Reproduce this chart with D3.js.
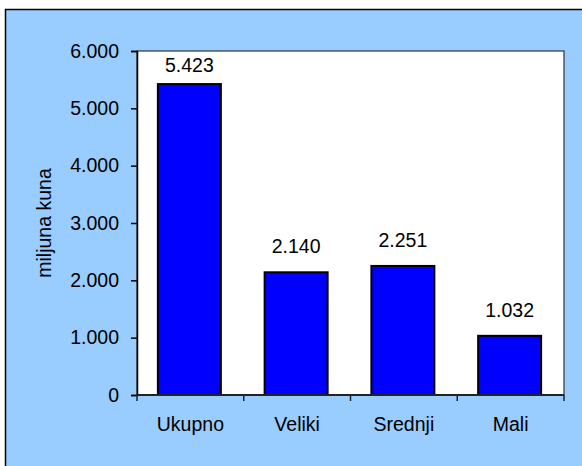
<!DOCTYPE html>
<html>
<head>
<meta charset="utf-8">
<script src="https://cdn.jsdelivr.net/npm/d3@7"></script>
<style>
  html, body { margin: 0; padding: 0; background: #ffffff; }
  svg { display: block; }
  text { font-family: "Liberation Sans", Arial, sans-serif; fill: #000; }
</style>
</head>
<body>
<svg id="chart" width="582" height="466"></svg>
<script>
const categories = ["Ukupno", "Veliki", "Srednji", "Mali"];
const values = [5423, 2140, 2251, 1032];
const yTicks = [0, 1000, 2000, 3000, 4000, 5000, 6000];
const yTitle = "miljuna kuna";

const W = 582, H = 466;
const plot = { left: 137, top: 51, right: 564, bottom: 395 };
const fontSize = 19.5;

const locale = d3.formatLocale({ decimal: ",", thousands: ".", grouping: [3], currency: ["", " kn"] });
const fmt = locale.format(",");

const svg = d3.select("#chart");

// chart area background
svg.append("rect")
  .attr("x", 5.5).attr("y", 9.5)
  .attr("width", W + 10).attr("height", H + 10)
  .attr("fill", "#99CCFF")
  .attr("stroke", "#000").attr("stroke-width", 1.5);

// plot area
svg.append("rect")
  .attr("x", plot.left).attr("y", plot.top)
  .attr("width", plot.right - plot.left).attr("height", plot.bottom - plot.top)
  .attr("fill", "#ffffff")
  .attr("stroke", "#333").attr("stroke-width", 1.2);

const pad = 0.41;
const x = d3.scaleBand().domain(categories)
  .range([plot.left, plot.right])
  .paddingInner(pad).paddingOuter(pad / 2);
const y = d3.scaleLinear().domain([0, 6000]).range([plot.bottom, plot.top]);

// bars
svg.append("g").selectAll("rect")
  .data(values)
  .join("rect")
  .attr("x", (d, i) => x(categories[i]) - 1)
  .attr("y", d => y(d))
  .attr("width", x.bandwidth())
  .attr("height", d => y(0) - y(d))
  .attr("fill", "#0000FF")
  .attr("stroke", "#000").attr("stroke-width", 2);

// value labels
svg.append("g").selectAll("text")
  .data(values)
  .join("text")
  .attr("x", (d, i) => x(categories[i]) + x.bandwidth() / 2 - 1)
  .attr("y", d => Math.max(y(d) - 19, plot.top + 21))
  .attr("text-anchor", "middle")
  .attr("font-size", fontSize)
  .text(d => fmt(d));

// y axis
const yAxis = d3.axisLeft(y).tickValues(yTicks).tickFormat(fmt).tickSize(6).tickPadding(12);
const gy = svg.append("g").attr("transform", `translate(${plot.left},0)`).call(yAxis);
gy.select(".domain").attr("stroke", "#000").attr("stroke-width", 1.5);
gy.selectAll(".tick line").attr("stroke", "#000").attr("stroke-width", 1.5);
gy.selectAll(".tick text")
  .attr("font-size", fontSize)
  .attr("font-family", "Liberation Sans, Arial, sans-serif")
  .attr("fill", "#000");

// x axis (ticks at category boundaries)
const step = x.step();
const bounds = d3.range(categories.length + 1).map(i => plot.left + i * step);
const gx = svg.append("g");
gx.append("line")
  .attr("x1", plot.left).attr("x2", plot.right)
  .attr("y1", plot.bottom).attr("y2", plot.bottom)
  .attr("stroke", "#222").attr("stroke-width", 2);
gx.selectAll("line.t").data(bounds).join("line")
  .attr("class", "t")
  .attr("x1", d => d).attr("x2", d => d)
  .attr("y1", plot.bottom).attr("y2", plot.bottom + 6)
  .attr("stroke", "#222").attr("stroke-width", 1.5);
gx.selectAll("text").data(categories).join("text")
  .attr("x", d => x(d) + x.bandwidth() / 2)
  .attr("y", plot.bottom + 36)
  .attr("text-anchor", "middle")
  .attr("font-size", fontSize)
  .text(d => d);

// y title
svg.append("text")
  .attr("transform", `translate(51,${(plot.top + plot.bottom) / 2}) rotate(-90)`)
  .attr("text-anchor", "middle")
  .attr("font-size", fontSize)
  .text(yTitle);
</script>
</body>
</html>
